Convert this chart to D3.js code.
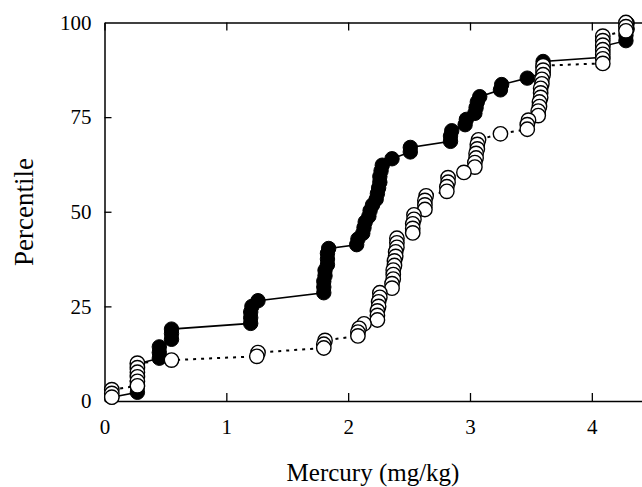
<!DOCTYPE html>
<html>
<head>
<meta charset="utf-8">
<script src="https://cdn.jsdelivr.net/npm/d3@7"></script>
<style>
body { margin: 0; background: #fff; }
text { font-family: "Liberation Serif", "DejaVu Serif", serif; fill: #000; }
</style>
</head>
<body>
<svg id="chart" width="642" height="487"></svg>
<script>
// filled circles, solid line
var filledHg = [0.06, 0.27, 0.27, 0.27, 0.27, 0.27, 0.27, 0.45, 0.45, 0.45, 0.55, 0.55, 0.55,
    1.20, 1.20, 1.20, 1.21, 1.26, 1.80, 1.80, 1.80, 1.81, 1.81, 1.83, 1.83, 1.83, 1.84,
    2.07, 2.08, 2.12, 2.13, 2.14, 2.17, 2.18, 2.20, 2.23, 2.24, 2.25, 2.26, 2.26, 2.27, 2.28,
    2.36, 2.51, 2.51, 2.84, 2.84, 2.85, 2.96, 2.97, 3.04, 3.05, 3.06, 3.08, 3.25, 3.26,
    3.47, 3.60, 3.60, 3.60, 4.09, 4.09, 4.09, 4.28, 4.28, 4.29, 4.29];
var filledPct = [1.0, 2.3, 3.8, 5.3, 6.8, 8.3, 9.8, 11.3, 12.8, 14.3, 16.3, 17.8, 19.0,
    20.5, 22.0, 23.5, 25.0, 26.5, 28.6, 30.1, 31.6, 33.1, 34.5, 36.0, 37.5, 39.0, 40.3,
    41.3, 42.8, 44.3, 45.8, 47.3, 48.8, 50.3, 51.8, 53.3, 54.8, 56.3, 57.8, 59.3, 60.8, 62.3,
    64.0, 65.8, 67.0, 68.6, 70.0, 71.4, 73.0, 74.4, 76.0, 77.5, 79.0, 80.4, 82.2, 83.6,
    85.3, 86.8, 88.2, 89.7, 90.8, 92.2, 93.7, 95.2, 96.6, 98.3, 99.8];

// open circles, dotted line
var openHg = [0.06, 0.06, 0.06, 0.27, 0.27, 0.27, 0.27, 0.27, 0.27, 0.55,
    1.25, 1.26, 1.80, 1.80, 1.81, 2.08, 2.08, 2.09, 2.13,
    2.24, 2.24, 2.24, 2.25, 2.25, 2.26, 2.26,
    2.36, 2.36, 2.37, 2.37, 2.37, 2.38, 2.38, 2.39, 2.39, 2.40, 2.40, 2.40,
    2.53, 2.53, 2.53, 2.54, 2.54, 2.63, 2.63, 2.63, 2.64,
    2.81, 2.81, 2.82, 2.82, 2.95, 3.04, 3.04, 3.05, 3.05, 3.06, 3.06, 3.07,
    3.25, 3.47, 3.47, 3.48,
    3.56, 3.56, 3.57, 3.57, 3.58, 3.58, 3.58, 3.59, 3.59, 3.60, 3.60, 3.60,
    4.09, 4.09, 4.09, 4.09, 4.09, 4.09, 4.09, 4.28, 4.28, 4.28];
var openPct = [1.0, 2.0, 3.0, 4.0, 5.2, 6.4, 7.6, 8.8, 10.0, 10.8,
    11.8, 12.8, 14.0, 15.0, 16.0, 17.2, 18.2, 19.2, 20.4,
    21.4, 22.6, 23.8, 25.0, 26.2, 27.4, 28.6,
    29.8, 31.0, 32.2, 33.4, 34.6, 35.8, 37.0, 38.2, 39.4, 40.6, 41.8, 43.0,
    44.4, 45.6, 46.8, 48.0, 49.2, 50.6, 51.8, 53.0, 54.2,
    55.4, 56.6, 57.8, 59.0, 60.4, 61.8, 63.0, 64.2, 65.4, 66.6, 67.8, 69.0,
    70.6, 71.8, 73.0, 74.2,
    75.4, 76.6, 77.8, 79.0, 80.2, 81.4, 82.6, 83.8, 85.0, 86.2, 87.4, 88.6,
    89.2, 90.4, 91.6, 92.8, 94.0, 95.2, 96.4, 97.8, 98.9, 100];

var xTicks = [0, 1, 2, 3, 4];
var yTicks = [0, 25, 50, 75, 100];

var svg = d3.select("#chart");

var x = d3.scaleLinear().domain([0, 4.42]).range([104.5, 643]);
var y = d3.scaleLinear().domain([0, 100]).range([401, 22.5]);

var filled = filledHg.map(function(d, i) { return [d, filledPct[i]]; });
var open = openHg.map(function(d, i) { return [d, openPct[i]]; });

// axes, ticks pointing inward
var gx = svg.append("g").attr("transform", "translate(0,401)")
    .call(d3.axisBottom(x).tickValues(xTicks).tickFormat(d3.format("d"))
        .tickSizeInner(-8).tickSizeOuter(0).tickPadding(18));
var gt = svg.append("g").attr("transform", "translate(0,22.5)")
    .call(d3.axisTop(x).tickValues(xTicks).tickFormat("")
        .tickSizeInner(-8).tickSizeOuter(0));
var gy = svg.append("g").attr("transform", "translate(104.5,0)")
    .call(d3.axisLeft(y).tickValues(yTicks).tickFormat(d3.format("d"))
        .tickSizeInner(-7).tickSizeOuter(0).tickPadding(13));

[gx, gt, gy].forEach(function(g) {
    g.selectAll(".domain").attr("stroke", "#000").attr("stroke-width", 1.5);
    g.selectAll(".tick line").attr("stroke", "#000").attr("stroke-width", 1.3);
    g.selectAll(".tick text").style("font-size", "21px")
        .style("font-family", "'Liberation Serif', serif");
});
gx.selectAll(".tick").filter(function(d) { return d === 0; }).select("line").remove();
gy.selectAll(".tick").filter(function(d) { return d === 0 || d === 100; }).select("line").remove();

// lines
var line = d3.line().x(function(d) { return x(d[0]); }).y(function(d) { return y(d[1]); });

svg.append("path").datum(filled)
    .attr("d", line).attr("fill", "none")
    .attr("stroke", "#000").attr("stroke-width", 1.6);

svg.append("path").datum(open)
    .attr("d", line).attr("fill", "none")
    .attr("stroke", "#000").attr("stroke-width", 2)
    .attr("stroke-dasharray", "3,5");

// markers: highest drawn first so lower ones sit on top
svg.append("g").selectAll("circle")
    .data(filled.slice().reverse())
    .enter().append("circle")
    .attr("cx", function(d) { return x(d[0]); })
    .attr("cy", function(d) { return y(d[1]); })
    .attr("r", 7.2)
    .attr("fill", "#000")
    .attr("stroke", "#000").attr("stroke-width", 1);

svg.append("g").selectAll("circle")
    .data(open.slice().reverse())
    .enter().append("circle")
    .attr("cx", function(d) { return x(d[0]); })
    .attr("cy", function(d) { return y(d[1]); })
    .attr("r", 7.2)
    .attr("fill", "#fff")
    .attr("stroke", "#000").attr("stroke-width", 1.4);

// axis titles
svg.append("text")
    .attr("x", 373).attr("y", 481)
    .attr("text-anchor", "middle")
    .style("font-size", "25px")
    .text("Mercury (mg/kg)");

svg.append("text")
    .attr("transform", "translate(33,212) rotate(-90)")
    .attr("text-anchor", "middle")
    .style("font-size", "27px")
    .text("Percentile");
</script>
</body>
</html>
